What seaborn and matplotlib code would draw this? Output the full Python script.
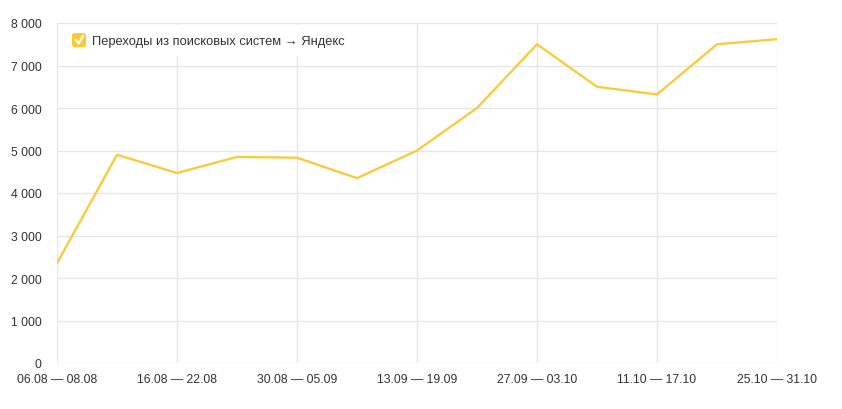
import seaborn as sns
import pandas as pd
import matplotlib.pyplot as plt
from matplotlib.patches import Rectangle, FancyBboxPatch
from matplotlib.ticker import FuncFormatter

weeks = ['06.08 — 08.08', '09.08 — 15.08', '16.08 — 22.08', '23.08 — 29.08',
         '30.08 — 05.09', '06.09 — 12.09', '13.09 — 19.09', '20.09 — 26.09',
         '27.09 — 03.10', '04.10 — 10.10', '11.10 — 17.10', '18.10 — 24.10',
         '25.10 — 31.10']
visits = [2350, 4900, 4470, 4850, 4830, 4350, 5000, 6000, 7500, 6500, 6320, 7500, 7620]
series_name = 'Переходы из поисковых систем → Яндекс'

line_color = '#fdc835'
grid_color = '#e6e6e6'
text_color = '#333333'

sns.set_style('white')
plt.rcParams['font.family'] = ['Liberation Sans', 'DejaVu Sans']

df = pd.DataFrame({'pos': range(len(weeks)), 'week': weeks, 'visits': visits})

fig = plt.figure(figsize=(8.42, 4.10), dpi=100)
ax = fig.add_axes([57 / 842, 46 / 410, 720 / 842, 340 / 410])

sns.lineplot(data=df, x='pos', y='visits', color=line_color, linewidth=1.6, ax=ax, legend=False)

ax.set_xlim(0, len(weeks) - 1)
ax.set_ylim(0, 8000)
ax.set_yticks(range(0, 8001, 1000))
ax.yaxis.set_major_formatter(FuncFormatter(lambda v, p: f'{int(v):,}'.replace(',', ' ')))
ax.set_xticks(df['pos'][::2])
ax.set_xticklabels(df['week'][::2])
ax.set_xlabel('')
ax.set_ylabel('')

ax.grid(True, color=grid_color, linewidth=1)
ax.set_axisbelow(True)
for s in ax.spines.values():
  s.set_visible(False)
ax.tick_params(axis='both', length=0, labelsize=8.8, colors=text_color)
ax.tick_params(axis='y', pad=11)
ax.tick_params(axis='x', pad=7)

# legend drawn by hand: white plate, yellow checkbox with a tick, label
tr = ax.transAxes
ax.add_patch(Rectangle((0.0153, 0.903), 0.394, 0.09, transform=tr,
                       facecolor='white', edgecolor='none', zorder=3, clip_on=False))
ax.add_patch(FancyBboxPatch((0.0222, 0.932), 0.0167, 0.0353, transform=tr,
                            boxstyle='round,pad=0.0015,rounding_size=0.004',
                            facecolor=line_color, edgecolor='none', zorder=4,
                            mutation_aspect=720 / 340))
ax.plot([0.0259, 0.0303, 0.0363], [0.951, 0.940, 0.962], transform=tr,
        color='white', linewidth=1.6, zorder=5, solid_capstyle='round')
ax.text(0.0485, 0.948, series_name, transform=tr, va='center', ha='left',
        fontsize=9.3, color=text_color, zorder=5)

fig.savefig('out.png', dpi=100)
